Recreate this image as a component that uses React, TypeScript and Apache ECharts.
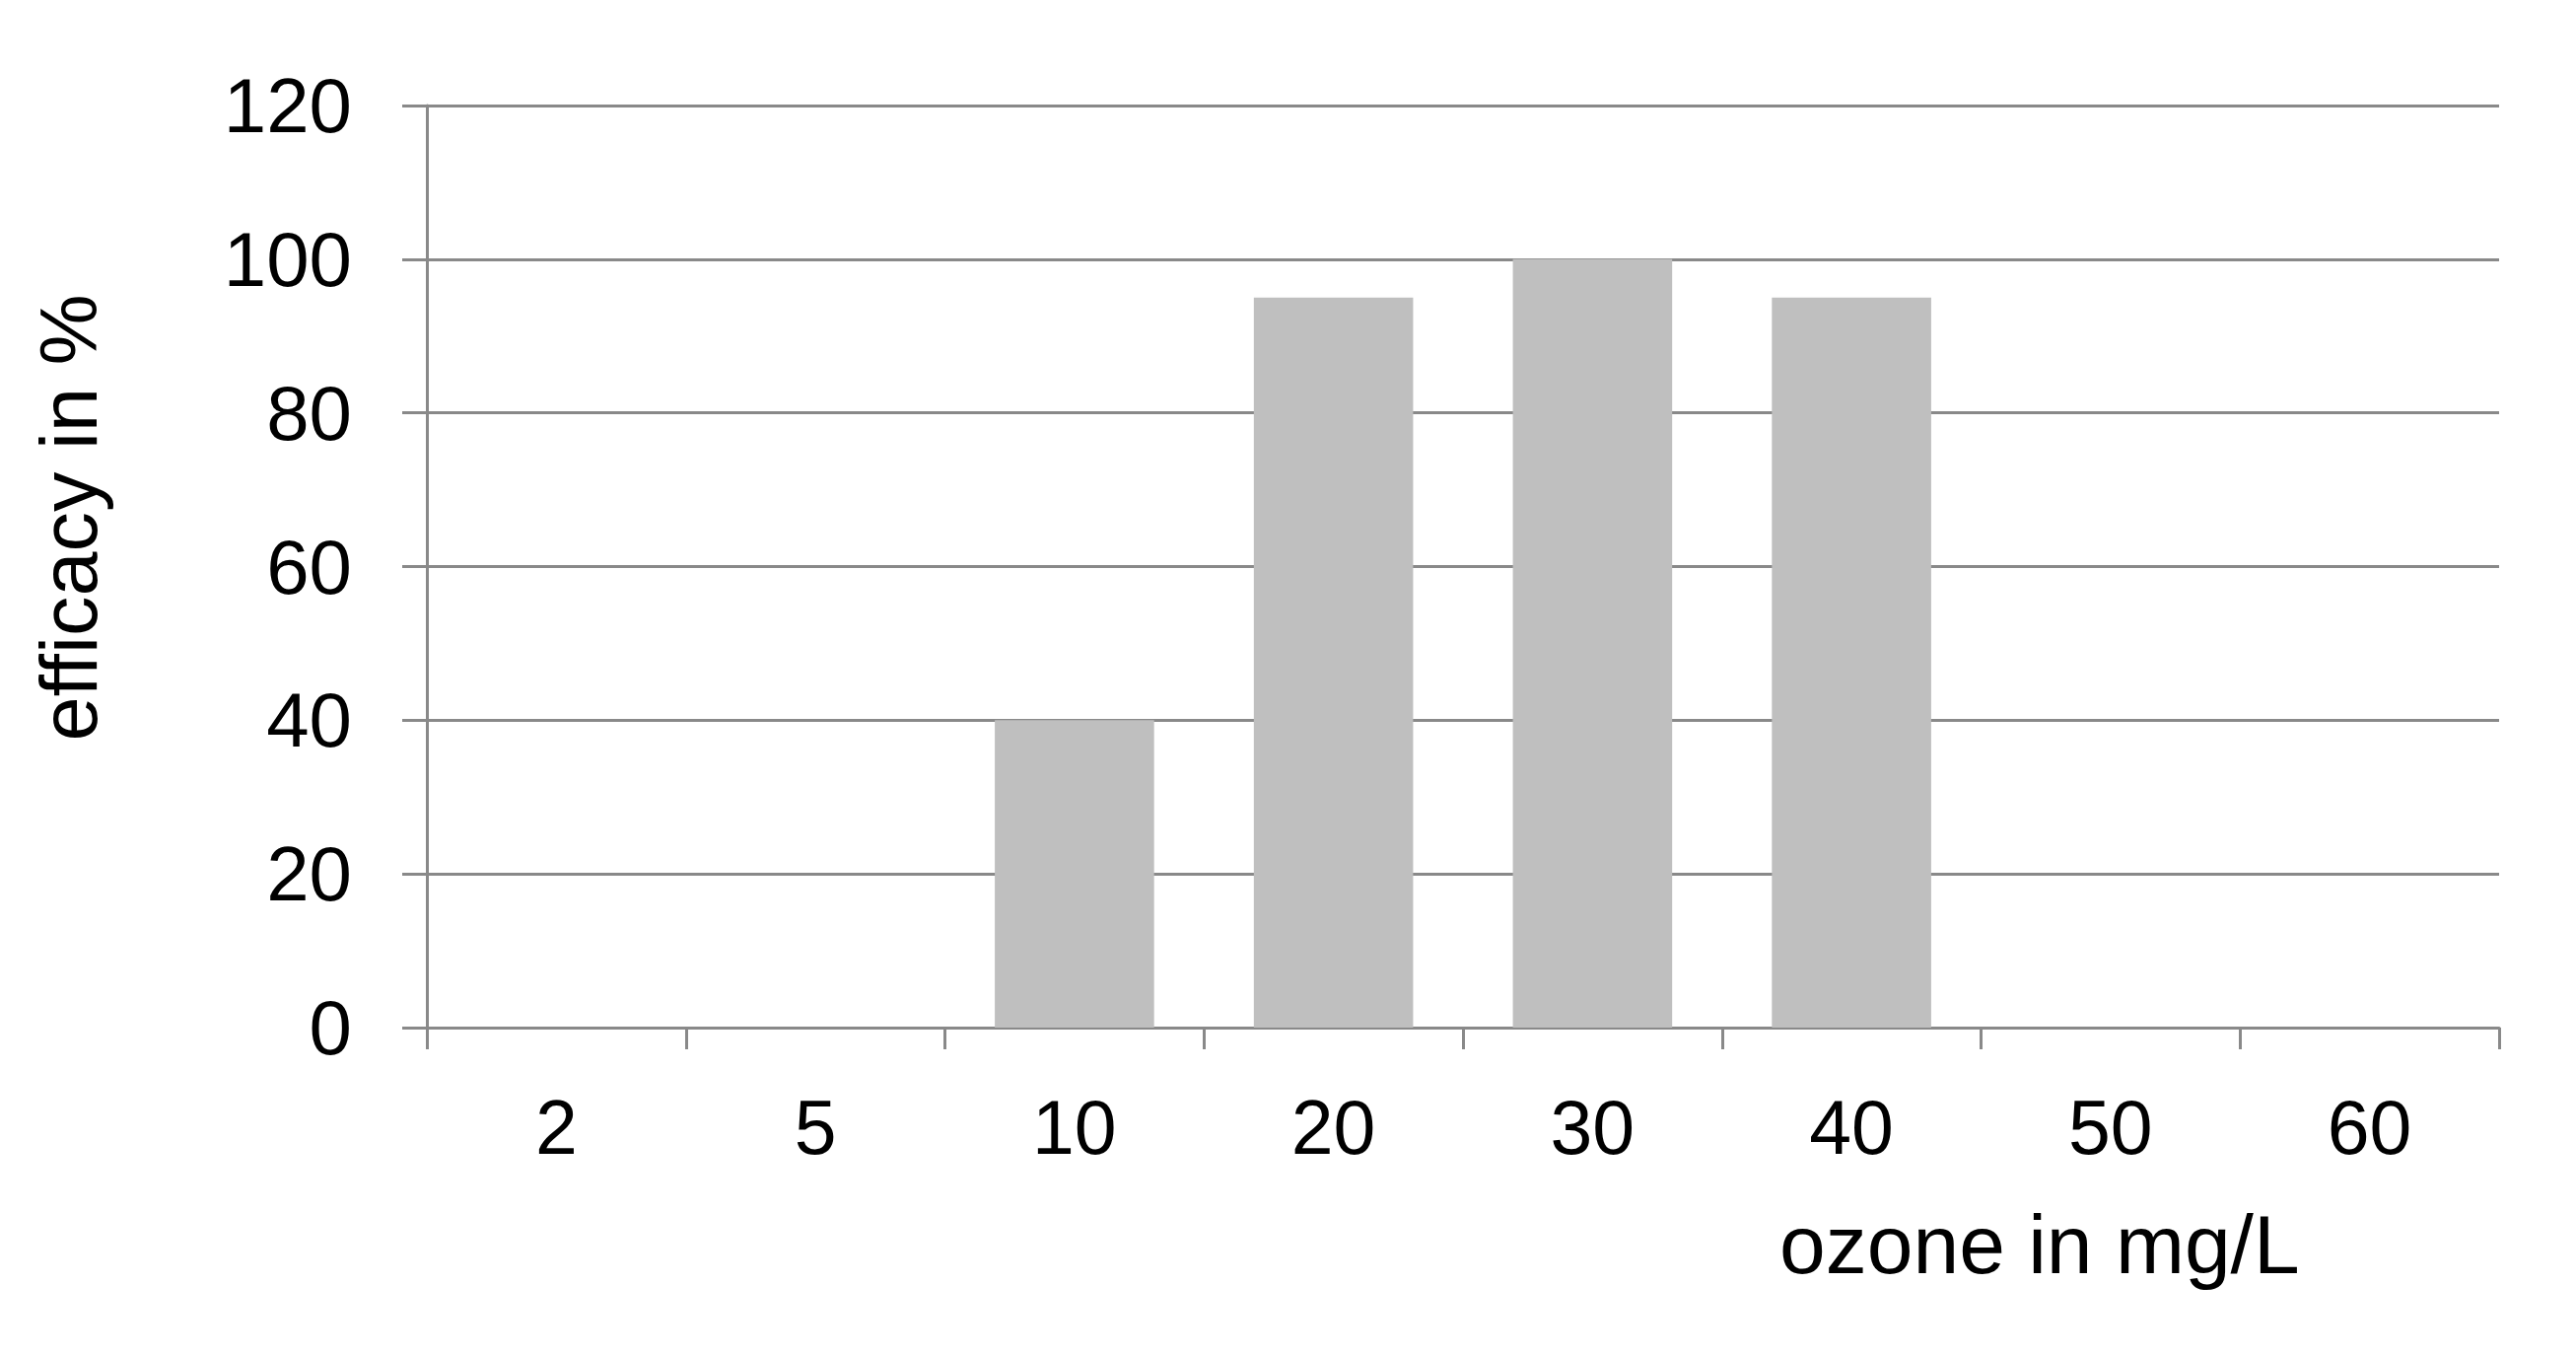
import React, { useEffect, useRef } from "react";
import * as echarts from "echarts";

const categories = ["2", "5", "10", "20", "30", "40", "50", "60"];
const efficacy = [0, 0, 40, 95, 100, 95, 0, 0];
const yTicks = { min: 0, max: 120, interval: 20 };
const xTitle = "ozone in mg/L";
const yTitle = "efficacy in %";

export default function App() {
  const ref = useRef<HTMLDivElement>(null);
  useEffect(() => {
    document.body.style.margin = "0";
    const chart = echarts.init(ref.current!, null, { renderer: "svg" });
    const font = "Liberation Sans, Arial, sans-serif";
    const gray = "#898989";
    chart.setOption({
      animation: false,
      backgroundColor: "#ffffff",
      grid: { left: 433, right: 78, top: 107, bottom: 332, containLabel: false },
      xAxis: {
        type: "category",
        data: categories,
        boundaryGap: true,
        axisLine: { show: true, lineStyle: { color: gray, width: 3 } },
        axisTick: { show: true, length: 22, lineStyle: { color: gray, width: 3 } },
        axisLabel: { color: "#000", fontSize: 77, fontFamily: font, margin: 62 },
        splitLine: { show: false },
      },
      yAxis: {
        type: "value",
        min: yTicks.min,
        max: yTicks.max,
        interval: yTicks.interval,
        axisLine: { show: true, lineStyle: { color: gray, width: 3 } },
        axisTick: { show: true, length: 25, lineStyle: { color: gray, width: 3 } },
        axisLabel: { color: "#000", fontSize: 78, fontFamily: font, margin: 76 },
        splitLine: { show: true, lineStyle: { color: gray, width: 3 } },
      },
      graphic: [
        {
          type: "text",
          x: 1805,
          y: 1262,
          style: {
            text: xTitle,
            fill: "#000",
            fontSize: 84,
            fontFamily: font,
            textAlign: "left",
            textVerticalAlign: "middle",
          },
        },
        {
          type: "text",
          x: 70,
          y: 525,
          rotation: Math.PI / 2,
          style: {
            text: yTitle,
            fill: "#000",
            fontSize: 81,
            fontFamily: font,
            textAlign: "center",
            textVerticalAlign: "middle",
          },
        },
      ],
      series: [
        {
          type: "bar",
          data: efficacy,
          barCategoryGap: "38.5%",
          itemStyle: { color: "#bfbfbf" },
        },
      ],
    });
    return () => chart.dispose();
  }, []);
  return (
    <div
      ref={ref}
      style={{ position: "fixed", left: 0, top: 0, width: 2613, height: 1374 }}
    />
  );
}
